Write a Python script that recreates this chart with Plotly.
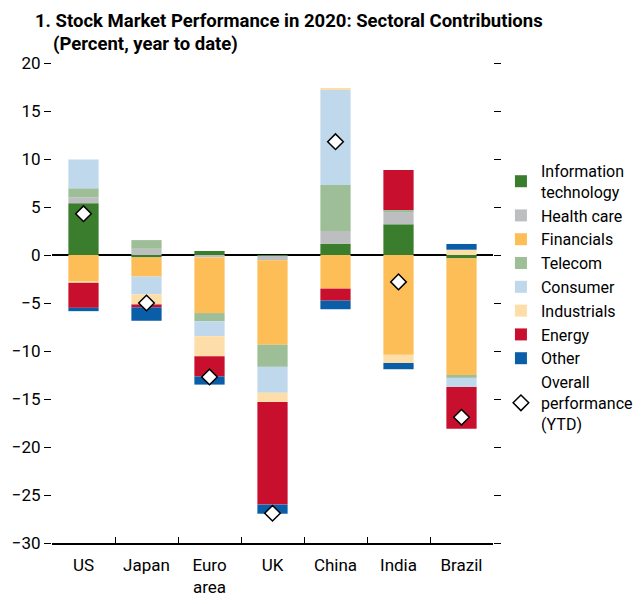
import plotly.graph_objects as go

# ----------------------------------------------------------------------------- data

countries = ["US", "Japan", "Euro<br>area", "UK", "China", "India", "Brazil"]

info_tech = [5.4, -0.25, 0.42, -0.1, 1.15, 3.2, -0.35]
health_care = [0.6, 0.65, -0.25, -0.45, 1.35, 1.3, 0.0]
financials = [-2.8, -2.0, -5.8, -8.8, -3.5, -10.4, -12.15]
telecom = [0.95, 0.9, -0.85, -2.3, 4.8, 0.2, -0.3]
consumer = [3.0, -1.85, -1.55, -2.7, 9.9, 0.0, -0.95]
industrials = [-0.1, -1.05, -2.1, -0.95, 0.2, -0.85, 0.55]
energy = [-2.6, -0.3, -2.1, -10.7, -1.25, 4.15, -4.35]
other = [-0.35, -1.4, -0.85, -0.95, -0.9, -0.65, 0.6]
overall = [4.3, -5.0, -12.7, -26.9, 11.8, -2.8, -16.9]

y_ticks = [20, 15, 10, 5, 0, -5, -10, -15, -20, -25, -30]

# ----------------------------------------------------------------------------- figure

FONT = "Liberation Sans Narrow, Arial Narrow, Roboto, sans-serif"

sectors = [
    ("Information<br>technology", info_tech, "#3a7d2c"),
    ("Health care", health_care, "#bcbec0"),
    ("Financials", financials, "#fdbd57"),
    ("Telecom", telecom, "#9dbe96"),
    ("Consumer", consumer, "#c0d8ec"),
    ("Industrials", industrials, "#fedea8"),
    ("Energy", energy, "#c8102e"),
    ("Other", other, "#0a5ea8"),
]

fig = go.Figure()

for name, vals, color in sectors:
    fig.add_trace(
        go.Bar(
            x=countries,
            y=vals,
            name=name,
            marker=dict(color=color, line=dict(width=0)),
        )
    )

fig.add_trace(
    go.Scatter(
        x=countries,
        y=overall,
        mode="markers",
        name="Overall<br>performance<br>(YTD)",
        marker=dict(
            symbol="diamond",
            size=12,
            color="white",
            line=dict(color="black", width=1.5),
        ),
    )
)

# page body has an 8px margin, so the figure is shifted by 8px
fig.update_layout(
    width=634,
    height=596,
    barmode="relative",
    bargap=0.52,
    plot_bgcolor="white",
    paper_bgcolor="white",
    font=dict(family=FONT, size=17, color="black"),
    margin=dict(l=44, r=149, t=55, b=61, autoexpand=False),
    showlegend=True,
    legend=dict(
        x=1.018,
        y=0.8106,
        xanchor="left",
        yanchor="top",
        font=dict(size=16),
        itemwidth=30,
        tracegroupgap=1,
        bgcolor="rgba(0,0,0,0)",
    ),
)

fig.update_yaxes(
    range=[-30, 20],
    tickvals=y_ticks,
    ticks="outside",
    ticklen=7,
    tickwidth=1,
    tickcolor="black",
    mirror="ticks",
    showgrid=False,
    showline=False,
    zeroline=True,
    zerolinecolor="black",
    zerolinewidth=1.5,
    layer="above traces",
    tickfont=dict(size=17),
)

fig.update_xaxes(
    showline=True,
    linecolor="black",
    linewidth=1.5,
    ticks="inside",
    tickson="boundaries",
    ticklen=6,
    tickcolor="black",
    showgrid=False,
    ticklabelstandoff=6,
    automargin=False,
    tickfont=dict(size=17),
)

# two-line title, second line indented under "Stock"
fig.add_annotation(
    text="<b>1. Stock Market Performance in 2020: Sectoral Contributions</b>",
    xref="paper", yref="paper", x=-0.043, y=1.0875,
    xanchor="left", yanchor="middle",
    showarrow=False, font=dict(size=18.5),
)
fig.add_annotation(
    text="<b>(Percent, year to date)</b>",
    xref="paper", yref="paper", x=-0.002, y=1.0406,
    xanchor="left", yanchor="middle",
    showarrow=False, font=dict(size=18.5),
)

fig.write_html("out.html")
